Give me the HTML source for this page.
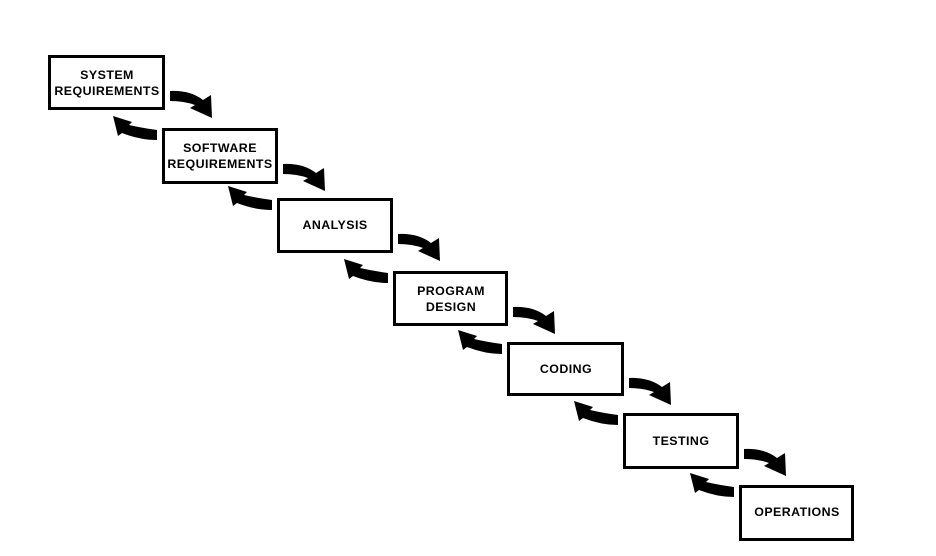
<!DOCTYPE html>
<html>
<head>
<meta charset="utf-8">
<style>
  html, body { margin: 0; padding: 0; background: #ffffff; }
  body { width: 936px; height: 556px; overflow: hidden; }
  svg { display: block; }
  text { font-family: "Liberation Sans", Arial, sans-serif; font-weight: bold; font-size: 12.4px; letter-spacing: 0.45px; fill: #000; }
</style>
</head>
<body>
<svg width="936" height="556" viewBox="0 0 936 556" xmlns="http://www.w3.org/2000/svg">
  <defs>
    <path id="fwd" d="M5,36 Q25,35 38,45 L46,40 L47,63 L25,53 L30,50 Q19,46 5,46 Z" fill="#000"/>
    <path id="back" d="M-5,2 Q-20,0 -33,-3 L-30,-6 L-49,-12 L-44,8 L-40,5 Q-22,12 -5,12 Z" fill="#000"/>
  </defs>

  <!-- Boxes -->
  <g fill="none" stroke="#000" stroke-width="3">
    <rect x="49.5" y="56.5" width="114" height="52"/>
    <rect x="163.5" y="129.5" width="113" height="53"/>
    <rect x="278.5" y="199.5" width="113" height="52"/>
    <rect x="394.5" y="272.5" width="112" height="52"/>
    <rect x="508.5" y="343.5" width="114" height="51"/>
    <rect x="624.5" y="414.5" width="113" height="53"/>
    <rect x="740.5" y="486.5" width="112" height="53"/>
  </g>

  <!-- Forward arrows -->
  <use href="#fwd" transform="translate(165,55)"/>
  <use href="#fwd" transform="translate(278,128)"/>
  <use href="#fwd" transform="translate(393,198)"/>
  <use href="#fwd" transform="translate(508,271)"/>
  <use href="#fwd" transform="translate(624,342)"/>
  <use href="#fwd" transform="translate(739,413)"/>

  <!-- Back arrows -->
  <use href="#back" transform="translate(162,128)"/>
  <use href="#back" transform="translate(277,198)"/>
  <use href="#back" transform="translate(393,271)"/>
  <use href="#back" transform="translate(507,342)"/>
  <use href="#back" transform="translate(623,413)"/>
  <use href="#back" transform="translate(739,485)"/>

  <!-- Labels -->
  <g text-anchor="middle">
    <text x="107" y="79">SYSTEM</text>
    <text x="107" y="95">REQUIREMENTS</text>

    <text x="220" y="152">SOFTWARE</text>
    <text x="220" y="168">REQUIREMENTS</text>

    <text x="335" y="229">ANALYSIS</text>

    <text x="451" y="295">PROGRAM</text>
    <text x="451" y="311">DESIGN</text>

    <text x="566" y="373">CODING</text>

    <text x="681" y="445">TESTING</text>

    <text x="797" y="516">OPERATIONS</text>
  </g>
</svg>
</body>
</html>
